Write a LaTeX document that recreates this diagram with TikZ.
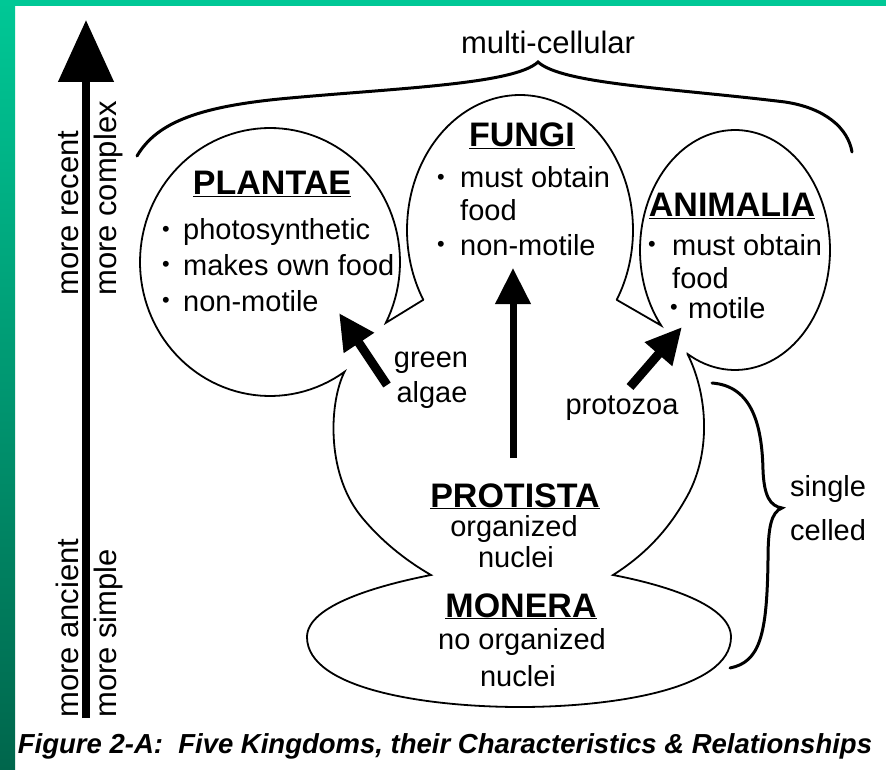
\documentclass[tikz,border=0pt]{standalone}
\usepackage{graphicx}
\usepackage{fontspec}
\setmainfont{Liberation Sans}
\usetikzlibrary{arrows.meta}

\definecolor{bandtop}{HTML}{00C896}
\definecolor{bandbottom}{HTML}{00664C}

\newcommand{\kbul}[1][21pt]{\makebox[#1][l]{\raisebox{3.5pt}{\scalebox{0.75}{\textbullet}}}}
\newcommand{\kname}[1]{\setbox0=\hbox{#1}\rlap{\rule[-2.2pt]{\wd0}{1pt}}\box0}

\tikzset{
    outline/.style={line width=1.8pt},
    bracket/.style={line width=3pt, line cap=round},
    growth/.style={line width=8pt, -{Triangle[length=36pt, width=34pt]}},
    kingdom/.style={font=\fontsize{34}{40}\selectfont\bfseries, inner sep=0pt, anchor=base},
    trait/.style={font=\fontsize{29}{35}\selectfont, inner sep=0pt, anchor=base west},
    note/.style={trait, anchor=base},
    axislabel/.style={font=\fontsize{31}{36}\selectfont, inner sep=0pt, rotate=90, anchor=base west},
    caption/.style={font=\fontsize{27.5}{32}\selectfont\bfseries\itshape, inner sep=0pt, anchor=base}
}

\begin{document}
\begin{tikzpicture}[x=1pt, y=-1pt]
    \useasboundingbox (0,0) rectangle (886,770);
    \fill[white] (0,0) rectangle (886,770);
    \shade[top color=bandtop, bottom color=bandbottom] (0,0) rectangle (15,770);
    \fill[bandtop] (0,0) rectangle (886,6);

    \coordinate (axis-low) at (86,718);
    \coordinate (axis-high) at (86,20);
    \draw[line width=8pt, -{Triangle[length=62pt, width=54pt]}] (axis-low) -- (axis-high);
    \node[axislabel] (recent) at (78,296) {more recent};
    \node[axislabel] (complex) at (116,296) {more complex};
    \node[axislabel] (ancient) at (78,718) {more ancient};
    \node[axislabel] (simple) at (116,718) {more simple};

    \draw[outline] (423,300)
        -- plot[domain=387:55, samples=120] ({270+130*cos(\x)}, {262+134*sin(\x)})
        .. controls (330,400) and (325,470) .. (360,515)
        .. controls (380,540) and (405,560) .. (431,575)
        .. controls (380,585) and (307,605) .. (307,637)
        .. controls (307,690) and (430,707) .. (520,707)
        .. controls (610,707) and (731,690) .. (731,637)
        .. controls (731,605) and (665,585) .. (613,575)
        .. controls (640,558) and (665,535) .. (685,500)
        .. controls (712,455) and (708,395) .. (687.5,354)
        -- plot[domain=120:-219, samples=120] ({735+95*cos(\x)}, {250+120*sin(\x)})
        -- (617,300)
        -- plot[domain=31:-211, samples=120] ({520+113*cos(\x)}, {230+135*sin(\x)})
        -- cycle;

    \draw[bracket] (137,156) .. controls (157,122) and (200,106) .. (290,98)
        .. controls (400,88) and (515,84) .. (538,62)
        .. controls (562,84) and (670,88) .. (785,102)
        .. controls (825,108) and (848,128) .. (852,152);
    \draw[bracket] (712,383) .. controls (752,386) and (762,425) .. (763,470)
        .. controls (764,496) and (770,506) .. (782,508)
        .. controls (771,512) and (768,528) .. (768,560)
        .. controls (767,635) and (760,662) .. (730,668);

    \coordinate (protista-stem) at (513,458);
    \coordinate (fungi-root) at (513,268);
    \coordinate (algae-stem) at (387,385);
    \coordinate (plantae-root) at (339,313);
    \coordinate (protozoa-stem) at (630,387);
    \coordinate (animalia-root) at (682,327);
    \draw[growth, line width=7pt] (protista-stem) -- (fungi-root);
    \draw[growth, line width=9pt] (algae-stem) -- (plantae-root);
    \draw[growth, line width=9pt] (protozoa-stem) -- (animalia-root);

    \node[kingdom] (plantae) at (272,195) {\kname{PLANTAE}};
    \node[trait] (plantae-a) at (162,240) {\kbul photosynthetic};
    \node[trait] (plantae-b) at (162,275) {\kbul makes own food};
    \node[trait] (plantae-c) at (162,311) {\kbul non-motile};
    \node[kingdom] (fungi) at (522,147) {\kname{FUNGI}};
    \node[trait] (fungi-a) at (437,188) {\kbul[23pt]must obtain};
    \node[trait] (fungi-b) at (460,221) {food};
    \node[trait] (fungi-c) at (437,255) {\kbul[23pt]non-motile};
    \node[kingdom] (animalia) at (732,217) {\kname{ANIMALIA}};
    \node[trait] (animalia-a) at (648,255) {\kbul[24pt]must obtain};
    \node[trait] (animalia-b) at (672,288) {food};
    \node[trait] (animalia-c) at (670,318) {\kbul[18pt]motile};
    \node[kingdom] (protista) at (515,507) {\kname{PROTISTA}};
    \node[note] (protista-a) at (514,536) {organized};
    \node[note] (protista-b) at (516,567) {nuclei};
    \node[kingdom] (monera) at (521,617) {\kname{MONERA}};
    \node[note] (monera-a) at (522,649) {no organized};
    \node[note] (monera-b) at (518,686) {nuclei};
    \node[note] (green) at (431,367) {green};
    \node[note] (algae) at (432,402) {algae};
    \node[note] (protozoa) at (622,414) {protozoa};
    \node[trait] (single) at (790,496) {single};
    \node[trait] (celled) at (790,540) {celled};
    \node[note, font=\fontsize{31}{36}\selectfont] (multi) at (548,54) {multi-cellular};
    \node[caption] (figcaption) at (445,753) {Figure 2-A:\ \ Five Kingdoms, their Characteristics \& Relationships};
\end{tikzpicture}
\end{document}
